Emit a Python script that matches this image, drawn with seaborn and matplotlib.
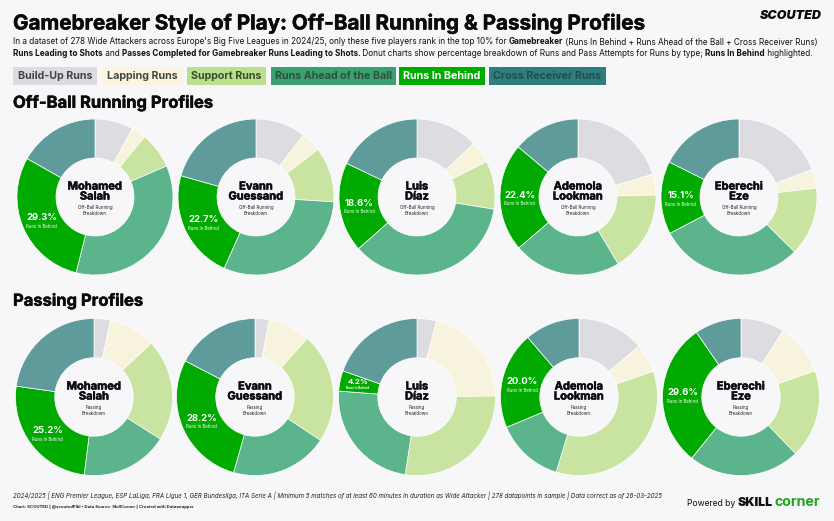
import matplotlib
matplotlib.use('Agg')
import matplotlib.pyplot as plt
import matplotlib.patheffects as pe
import numpy as np
import seaborn as sns

W, H = 834, 521
BG = '#f7f6f9'

sns.set_theme(style="white")
plt.rcParams['font.family'] = ['Inter', 'DejaVu Sans']

categories = ['Build-Up Runs', 'Lapping Runs', 'Support Runs',
              'Runs Ahead of the Ball', 'Runs In Behind', 'Cross Receiver Runs']
players = ['Mohamed\nSalah', 'Evann\nGuessand', 'Luis\nDíaz', 'Ademola\nLookman', 'Eberechi\nEze']

# clockwise from 12 o'clock, same order as categories
running_salah = [8.0, 3.0, 7.5, 35.4, 29.3, 16.8]
running_guessand = [10.4, 4.2, 11.4, 30.7, 22.7, 20.6]
running_diaz = [13.0, 4.5, 10.0, 36.0, 18.6, 17.9]
running_lookman = [20.3, 4.3, 16.8, 22.3, 22.4, 13.9]
running_eze = [19.3, 3.9, 14.2, 29.9, 15.1, 17.6]

passing_salah = [3.4, 9.6, 21.0, 18.0, 25.2, 22.8]
passing_guessand = [2.9, 8.7, 22.7, 20.1, 28.2, 17.4]
passing_diaz = [4.0, 20.8, 27.6, 23.8, 4.2, 19.6]
passing_lookman = [13.8, 5.9, 35.0, 14.0, 20.0, 11.3]
passing_eze = [9.0, 10.6, 18.2, 23.0, 29.6, 9.6]

running = [running_salah, running_guessand, running_diaz, running_lookman, running_eze]
passing = [passing_salah, passing_guessand, passing_diaz, passing_lookman, passing_eze]

pie_colors = sns.color_palette(['#dddce0', '#f8f3dc', '#c8e4a0', '#5bb48b', '#00aa00', '#5f9b9b'])
legend_fill = ['#dcdce0', '#fbf5e0', '#b9e08a', '#3aa06f', '#00ab00', '#2f7d7d']
legend_text = ['#444444', '#444444', '#3c4a30', '#2f4f40', '#ffffff', '#1f4f4f']
legend_x = [(13, 97), (102, 182), (187, 266), (271, 396), (399, 485), (489, 606)]

fig = plt.figure(figsize=(W / 100, H / 100), dpi=100, facecolor=BG)
overlay = fig.add_axes([0, 0, 1, 1])
overlay.set_xlim(0, W)
overlay.set_ylim(H, 0)
overlay.axis('off')
renderer = fig.canvas.get_renderer()

heavy = [pe.withStroke(linewidth=0.35, foreground='#0a0a0a')]


def put(x, y, s, **kw):
    kw.setdefault('va', 'center')
    kw.setdefault('color', '#111111')
    return overlay.text(x, y, s, **kw)


def put_runs(x, y, runs, size):
    # mixed regular and bold text on one line
    for s, weight in runs:
        t = put(x, y, s, fontsize=size, fontweight=weight)
        x += t.get_window_extent(renderer).width


def donut(cx, cy, r, values, name, sub):
    ax = fig.add_axes([(cx - r) / W, 1 - (cy + r) / H, 2 * r / W, 2 * r / H])
    ax.pie(values, colors=pie_colors, startangle=90, counterclock=False, radius=1,
           wedgeprops=dict(width=0.5, edgecolor='white', linewidth=0.5))
    ax.set_xlim(-1, 1)
    ax.set_ylim(-1, 1)
    ax.axis('off')

    before = sum(values[:4])
    mid = np.radians((before + values[4] / 2) * 3.6)
    small = values[4] < 8
    rad = 0.77 if small else 0.745
    lx, ly = rad * np.sin(mid), rad * np.cos(mid)
    ax.text(lx, ly + (0.03 if small else 0.025), '%.1f%%' % values[4], color='white', fontweight='bold',
            fontsize=5.6 if small else 6.8, ha='center', va='center')
    ax.text(lx, ly - (0.05 if small else 0.085), categories[4], color='white', fontsize=2.3 if small else 3.1,
            fontweight='bold' if small else 'normal', ha='center', va='center')

    ax.text(0, 0.07, name, ha='center', va='center', fontsize=8, fontweight='bold',
            color='#0c0c14', linespacing=1.0, path_effects=heavy)
    ax.text(0, -0.17, sub + '\nBreakdown', ha='center', va='center', fontsize=3.2,
            color='#222222', linespacing=1.35)


put(13, 23, 'Gamebreaker Style of Play: Off-Ball Running & Passing Profiles',
    fontsize=14.85, fontweight='bold', color='#0a0a0a', path_effects=heavy)
put(821, 16, 'SCOUTED', fontsize=9, fontweight='black', fontstyle='italic', ha='right', color='#0a0a0a')

put_runs(13, 42, [("In a dataset of 278 Wide Attackers across Europe's Big Five Leagues in 2024/25, only these five players rank in the top 10% for ", 'normal'),
                  ('Gamebreaker', 'bold'),
                  (' (Runs In Behind + Runs Ahead of the Ball + Cross Receiver Runs)', 'normal')], 5.9)
put_runs(13, 53, [('Runs Leading to Shots', 'bold'), (' and ', 'normal'),
                  ('Passes Completed for Gamebreaker Runs Leading to Shots.', 'bold'),
                  (' Donut charts show percentage breakdown of Runs and Pass Attempts for Runs by type; ', 'normal'),
                  ('Runs In Behind', 'bold'), (' highlighted.', 'normal')], 5.9)

for label, fill, tc, (x0, x1) in zip(categories, legend_fill, legend_text, legend_x):
    overlay.fill_between([x0, x1], 67, 85, color=fill, linewidth=0)
    put((x0 + x1) / 2, 76, label, fontsize=7.7, fontweight='bold', color=tc, ha='center')

put(13, 103, 'Off-Ball Running Profiles', fontsize=11.9, fontweight='bold', color='#0a0a0a', path_effects=heavy)
put(13, 301, 'Passing Profiles', fontsize=11.9, fontweight='bold', color='#0a0a0a', path_effects=heavy)

running_x = [95, 256, 417, 578, 739]
passing_x = [94, 255, 417, 579, 741]
for cx, vals, name in zip(running_x, running, players):
    donut(cx, 197, 78, vals, name, 'Off-Ball Running')
for cx, vals, name in zip(passing_x, passing, players):
    donut(cx, 397, 78.5, vals, name, 'Passing')

put(13, 496, '2024/2025 | ENG Premier League, ESP LaLiga, FRA Ligue 1, GER Bundesliga, ITA Serie A | Minimum 5 matches of at least 60 minutes in duration as Wide Attacker | 278 datapoints in sample | Data correct as of 26-03-2025',
    fontsize=4.45, fontstyle='italic', color='#222222')
put(13, 507, 'Chart: SCOUTED | @scoutedPlbl • Data Source: SkillCorner | Created with Datawrapper',
    fontsize=3.07, fontweight='bold', color='#222222')
put(687, 503, 'Powered by', fontsize=6.2, color='#111111')
put(738, 503, 'SKILL', fontsize=8.8, fontweight='black', color='#111111')
put(775, 502, 'corner', fontsize=10.2, fontweight='bold', color='#1fa51f')

fig.savefig('out.png', dpi=100, facecolor=BG)
